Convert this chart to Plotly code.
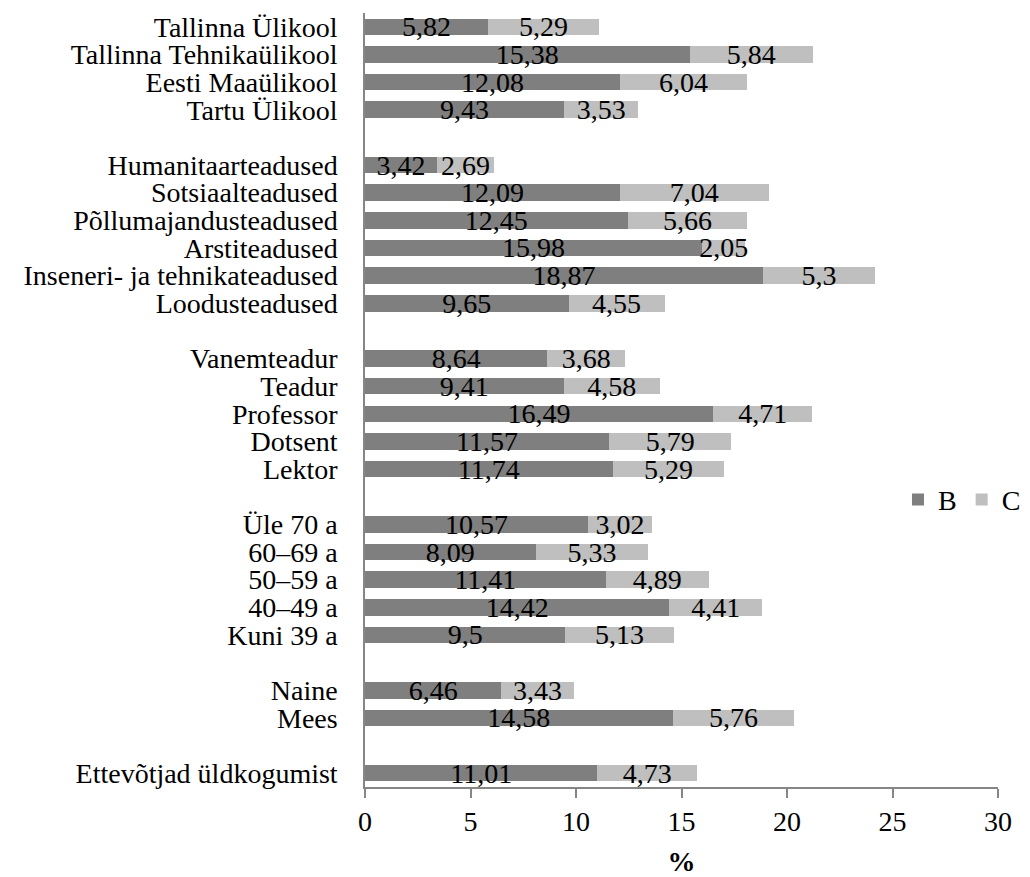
import plotly.graph_objects as go

# groups, listed top to bottom as in the chart
universities = ["Tallinna Ülikool", "Tallinna Tehnikaülikool", "Eesti Maaülikool", "Tartu Ülikool"]
universities_b = [5.82, 15.38, 12.08, 9.43]
universities_c = [5.29, 5.84, 6.04, 3.53]

fields = ["Humanitaarteadused", "Sotsiaalteadused", "Põllumajandusteadused", "Arstiteadused",
          "Inseneri- ja tehnikateadused", "Loodusteadused"]
fields_b = [3.42, 12.09, 12.45, 15.98, 18.87, 9.65]
fields_c = [2.69, 7.04, 5.66, 2.05, 5.3, 4.55]

positions = ["Vanemteadur", "Teadur", "Professor", "Dotsent", "Lektor"]
positions_b = [8.64, 9.41, 16.49, 11.57, 11.74]
positions_c = [3.68, 4.58, 4.71, 5.79, 5.29]

ages = ["Üle 70 a", "60–69 a", "50–59 a", "40–49 a", "Kuni 39 a"]
ages_b = [10.57, 8.09, 11.41, 14.42, 9.5]
ages_c = [3.02, 5.33, 4.89, 4.41, 5.13]

genders = ["Naine", "Mees"]
genders_b = [6.46, 14.58]
genders_c = [3.43, 5.76]

total = ["Ettevõtjad üldkogumist"]
total_b = [11.01]
total_c = [4.73]

groups = [
    (universities, universities_b, universities_c),
    (fields, fields_b, fields_c),
    (positions, positions_b, positions_c),
    (ages, ages_b, ages_c),
    (genders, genders_b, genders_c),
    (total, total_b, total_c),
]

cats, b_vals, c_vals = [], [], []
for i, (names, b, c) in enumerate(groups):
    if i > 0:
        # empty row between groups
        cats.append(" " * i)
        b_vals.append(None)
        c_vals.append(None)
    cats += names
    b_vals += b
    c_vals += c


def fmt(vals):
    return ["" if v is None else str(v).replace(".", ",") for v in vals]


font = "Liberation Serif"
axis_gray = "#868686"
fs = 28

fig = go.Figure()
for name, vals, color in [("B", b_vals, "#7f7f7f"), ("C", c_vals, "#bfbfbf")]:
    fig.add_trace(go.Bar(
        y=cats, x=vals, name=name, orientation="h",
        marker=dict(color=color, line=dict(width=0)),
        text=fmt(vals), textposition="inside", insidetextanchor="middle",
        constraintext="none", cliponaxis=False,
        textfont=dict(family=font, size=fs, color="black"),
    ))

fig.update_layout(
    barmode="stack",
    bargap=0.4,
    width=1030, height=877,
    margin=dict(l=357, r=40, t=5, b=98),
    paper_bgcolor="white", plot_bgcolor="white",
    font=dict(family=font, size=fs, color="black"),
    showlegend=True,
    legend=dict(orientation="h", x=0.842, y=0.371, xanchor="left", yanchor="middle",
                font=dict(size=fs), itemwidth=30, traceorder="normal"),
    xaxis=dict(range=[0, 30], dtick=5, showgrid=False, zeroline=False, automargin=False,
               showline=True, linecolor=axis_gray, linewidth=1.5,
               ticks="outside", ticklen=9, tickcolor=axis_gray, tickwidth=1.5,
               tickfont=dict(size=fs),
               title=dict(text="<b>%</b>", font=dict(size=fs), standoff=15)),
    yaxis=dict(categoryorder="array", categoryarray=cats, autorange="reversed",
               tickmode="array", tickvals=cats, ticktext=cats,
               automargin=False,
               showgrid=False, zeroline=False, showline=True, linecolor=axis_gray,
               linewidth=1.5, ticks="", ticklabelstandoff=20,
               tickfont=dict(size=fs)),
)

fig.write_html("out.html")
